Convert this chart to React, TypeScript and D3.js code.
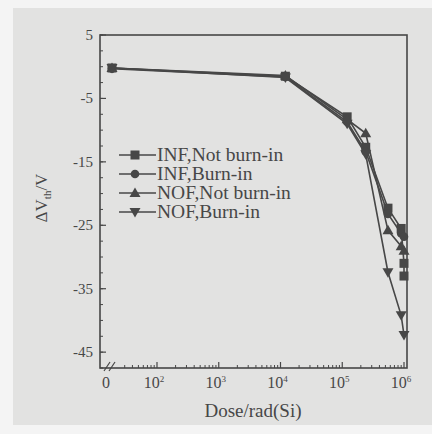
import * as d3 from 'd3';

// dose values (0 sits on the broken part of the axis)
const doses = [0, 1.2e4, 1.2e5, 2.4e5, 5.5e5, 9e5, 1e6];

const infNotBurnIn = [-0.2, -1.5, -7.9, -12.7, -22.3, -25.5];
const infNotBurnInExtra = [-31, -33]; // extra readings at 1e6
const infBurnIn = [-0.3, -1.6, -8.7, -13.4, -23.2, -26.3, -26.8];
const nofNotBurnIn = [-0.2, -1.4, -8.3, -10.5, -25.8, -28.3, -29];
const nofBurnIn = [-0.2, -1.7, -9.0, -13.8, -32.4, -39.2, -42.3];

const seriesNames = ['INF,Not burn-in', 'INF,Burn-in', 'NOF,Not burn-in', 'NOF,Burn-in'];
const yTicks = [5, -5, -15, -25, -35, -45];
const xTickExps = [2, 3, 4, 5, 6];

const ink = '#474747';
const font = '"Liberation Serif", "Times New Roman", serif';

const App = () => {
  const left = 100, right = 407, top = 35, bottom = 368;

  const x = d3.scaleLog().domain([1e2, 1e6]).range([157, 404]);
  const zeroX = 112;
  const px = (d: number) => (d === 0 ? zeroX : x(d));
  const y = d3.scaleLinear().domain([-47.5, 5]).range([bottom, top]);

  const infNB = [
    ...infNotBurnIn.map((v, i) => [doses[i], v]),
    ...infNotBurnInExtra.map(v => [1e6, v]),
  ];
  const series = [
    infNB,
    infBurnIn.map((v, i) => [doses[i], v]),
    nofNotBurnIn.map((v, i) => [doses[i], v]),
    nofBurnIn.map((v, i) => [doses[i], v]),
  ];

  const line = d3.line<number[]>().x(d => px(d[0])).y(d => y(d[1]));

  const marker = (k: number, cx: number, cy: number, key: string) => {
    if (k === 0) return <rect key={key} x={cx - 4.5} y={cy - 4.5} width={9} height={9} fill={ink} />;
    if (k === 1) return <circle key={key} cx={cx} cy={cy} r={4.3} fill={ink} />;
    if (k === 2) return <path key={key} d={`M${cx},${cy - 5.5}L${cx + 5.5},${cy + 4}L${cx - 5.5},${cy + 4}Z`} fill={ink} />;
    return <path key={key} d={`M${cx},${cy + 5.5}L${cx + 5.5},${cy - 4}L${cx - 5.5},${cy - 4}Z`} fill={ink} />;
  };

  // minor ticks
  const yMinor = d3.range(-47.5, 5.01, 2.5);
  const xMinor: number[] = [];
  for (let e = 1; e < 6; e++) for (let m = 2; m <= 9; m++) {
    const v = m * Math.pow(10, e);
    if (x(v) > zeroX + 8) xMinor.push(v);
  }

  const legendY = [155, 174, 193, 212];

  return (
    <svg width={432} height={434} style={{ position: 'absolute', left: 0, top: 0 }}>
      <rect width={432} height={434} fill="#f4f4f4" />
      <rect x={13} y={8} width={419} height={417} fill="#e2e2e1" />

      {/* frame */}
      <rect x={left} y={top} width={right - left} height={bottom - top} fill="none" stroke={ink} strokeWidth={1.6} />

      {/* y ticks */}
      {yMinor.map(v => (
        <line key={'ym' + v} x1={left} x2={left + 3} y1={y(v)} y2={y(v)} stroke={ink} strokeWidth={1} />
      ))}
      {yTicks.map(v => (
        <g key={'y' + v}>
          <line x1={left} x2={left + 6} y1={y(v)} y2={y(v)} stroke={ink} strokeWidth={1.2} />
          <text x={left - 7} y={y(v) + 5} textAnchor="end" fontFamily={font} fontSize={15} fill={ink}>
            {v}
          </text>
        </g>
      ))}

      {/* x ticks */}
      {xMinor.map(v => (
        <line key={'xm' + v} x1={x(v)} x2={x(v)} y1={bottom} y2={bottom - 3} stroke={ink} strokeWidth={1} />
      ))}
      {xTickExps.map(e => (
        <g key={'x' + e}>
          <line x1={x(Math.pow(10, e))} x2={x(Math.pow(10, e))} y1={bottom} y2={bottom - 6} stroke={ink} strokeWidth={1.2} />
          <text x={x(Math.pow(10, e)) - 3} y={bottom + 20} textAnchor="middle" fontFamily={font} fontSize={16} fill={ink}>
            10<tspan dy={-6} fontSize={9}>{e}</tspan>
          </text>
        </g>
      ))}
      <text x={106} y={bottom + 20} textAnchor="middle" fontFamily={font} fontSize={16} fill={ink}>0</text>
      {/* axis break */}
      <line x1={104} y1={bottom + 3} x2={110} y2={bottom - 6} stroke={ink} strokeWidth={1.2} />
      <line x1={109} y1={bottom + 3} x2={115} y2={bottom - 6} stroke={ink} strokeWidth={1.2} />

      {/* axis titles */}
      <text x={253} y={417} textAnchor="middle" fontFamily={font} fontSize={19} fill={ink}>Dose/rad(Si)</text>
      <text transform={`translate(47,198) rotate(-90)`} textAnchor="middle" fontFamily={font} fontSize={17} fill={ink}>
        ΔV<tspan dy={4} fontSize={11}>th</tspan><tspan dy={-4}>/V</tspan>
      </text>

      {/* series */}
      {series.map((s, k) => (
        <g key={'s' + k}>
          <path d={line(s as number[][]) ?? ''} fill="none" stroke={ink} strokeWidth={1.6} />
          {s.map((d, i) => marker(k, px(d[0]), y(d[1]), `m${k}-${i}`))}
        </g>
      ))}

      {/* legend */}
      {seriesNames.map((n, k) => (
        <g key={'l' + k}>
          <line x1={119} x2={156} y1={legendY[k]} y2={legendY[k]} stroke={ink} strokeWidth={1.6} />
          {marker(k, 135, legendY[k], 'lm' + k)}
          <text x={157} y={legendY[k] + 6} fontFamily={font} fontSize={19.5} fill={ink}>{n}</text>
        </g>
      ))}
    </svg>
  );
};

export default App;
